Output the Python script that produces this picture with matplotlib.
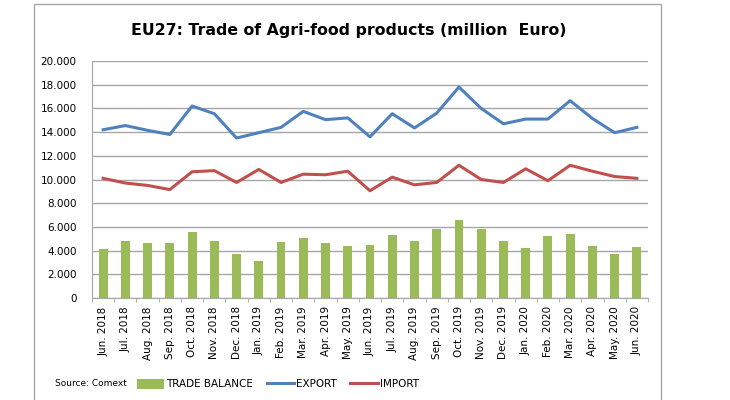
import matplotlib
matplotlib.use("Agg")
import matplotlib.pyplot as plt
from matplotlib.patches import Rectangle
import numpy as np

# months Jun 2018 .. Jun 2020
meses = ["Jun. 2018", "Jul. 2018", "Aug. 2018", "Sep. 2018", "Oct. 2018", "Nov. 2018",
         "Dec. 2018", "Jan. 2019", "Feb. 2019", "Mar. 2019", "Apr. 2019", "May. 2019",
         "Jun. 2019", "Jul. 2019", "Aug. 2019", "Sep. 2019", "Oct. 2019", "Nov. 2019",
         "Dec. 2019", "Jan. 2020", "Feb. 2020", "Mar. 2020", "Apr. 2020", "May. 2020",
         "Jun. 2020"]

export = [14200, 14550, 14150, 13800, 16200, 15550, 13500, 13950, 14400, 15750, 15050,
          15200, 13600, 15550, 14350, 15600, 17800, 16000, 14700, 15100, 15100, 16650,
          15150, 13950, 14400]

importe = [10100, 9700, 9500, 9150, 10650, 10750, 9750, 10850, 9750, 10450, 10400,
           10700, 9050, 10200, 9550, 9750, 11200, 10000, 9750, 10900, 9900, 11200,
           10700, 10250, 10100]

balance = [4100, 4800, 4600, 4600, 5550, 4800, 3700, 3100, 4700, 5100, 4600, 4400,
           4450, 5300, 4800, 5800, 6550, 5850, 4850, 4200, 5200, 5400, 4350, 3700, 4300]

yticks = list(range(0, 20001, 2000))

verde = "#9BBB59"
azul = "#4F81BD"
rojo = "#C0504D"
gris = "#A6A6A6"

fig = plt.figure(figsize=(7.3, 4.0), dpi=100)
fig.patches.append(Rectangle((34 / 730, -0.1), (661 - 34) / 730, 1.1 - 4 / 400,
                             transform=fig.transFigure, fill=False,
                             edgecolor=gris, linewidth=1.0))

ax = fig.add_axes([92 / 730, 1 - 298 / 400, (648 - 92) / 730, (298 - 61) / 400])
x = np.arange(len(meses))

barras = ax.bar(x, balance, width=0.4, color=verde, label="TRADE BALANCE", zorder=2)
l_exp, = ax.plot(x, export, color=azul, linewidth=2.2, label="EXPORT", zorder=3)
l_imp, = ax.plot(x, importe, color=rojo, linewidth=2.2, label="IMPORT", zorder=3)

ax.set_xlim(-0.5, len(meses) - 0.5)
ax.set_ylim(0, 20000)
ax.set_yticks(yticks)
ax.set_yticklabels([f"{v:,}".replace(",", ".") for v in yticks], fontsize=7.5)
ax.yaxis.grid(True, color=gris, linewidth=1.0, zorder=0)
ax.set_axisbelow(True)
ax.tick_params(axis="y", length=0, pad=11)

ax.set_xticks(x)
ax.set_xticklabels(meses, rotation=90, fontsize=7.5)
ax.set_xticks(np.arange(-0.5, len(meses), 1), minor=True)
ax.tick_params(axis="x", which="major", length=0, pad=6)
ax.tick_params(axis="x", which="minor", length=3, color=gris)

for lado in ["top", "right"]:
    ax.spines[lado].set_visible(False)
ax.spines["left"].set_color(gris)
ax.spines["bottom"].set_color(gris)

fig.text(349 / 730, 1 - 31 / 400, "EU27: Trade of Agri-food products (million  Euro)",
         ha="center", va="center", fontsize=11.3, fontweight="bold")
fig.text(55 / 730, 1 - 383 / 400, "Source: Comext", ha="left", va="center", fontsize=6.5)

fig.legend([barras, l_exp, l_imp], ["TRADE BALANCE", "EXPORT", "IMPORT"],
           loc="center", bbox_to_anchor=(278 / 730, 1 - 384 / 400), ncol=3,
           frameon=False, fontsize=7.5, handlelength=2.6, handleheight=1.1,
           columnspacing=1.3, handletextpad=0.2)

fig.savefig("out.png", dpi=100)
